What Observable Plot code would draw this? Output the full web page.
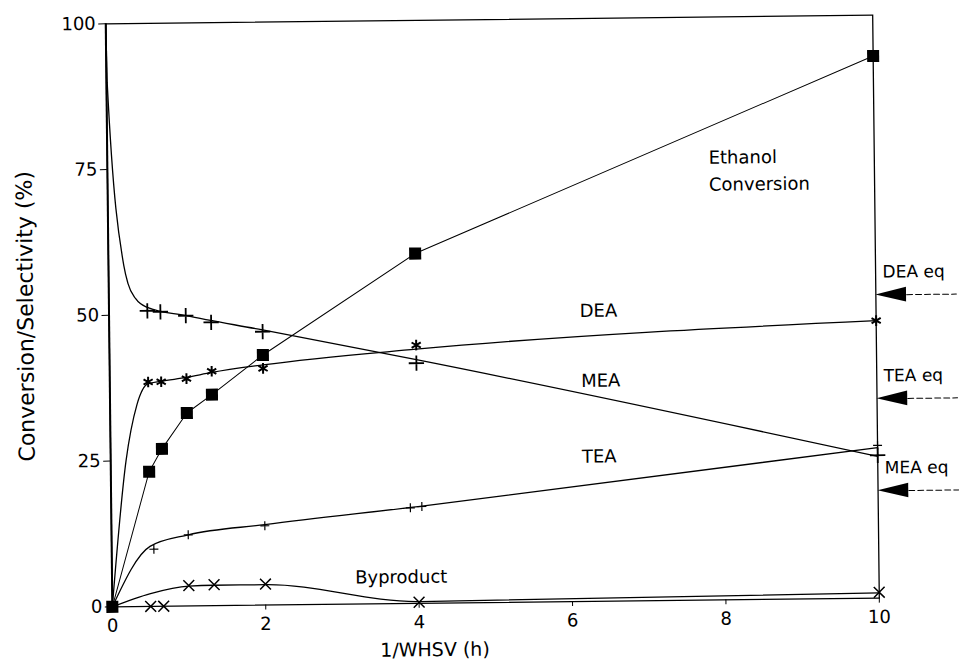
<!DOCTYPE html>
<html><head><meta charset="utf-8">
<script src="https://cdn.jsdelivr.net/npm/d3@7"></script>
<script src="https://cdn.jsdelivr.net/npm/@observablehq/plot@0.6"></script>
<style>
body{margin:0;background:#fff}
#chart svg{font-family:"DejaVu Sans",Arial,Helvetica,sans-serif;transform:rotate(-0.65deg);transform-origin:492px 310px}
</style>
</head><body><div id="chart"></div>
<script>
// axis ticks
const ticksX = [0, 2, 4, 6, 8, 10];
const ticksY = [0, 25, 50, 75, 100];

// measured points
const ethX = [0, 0.5, 0.67, 1, 1.33, 2, 4, 10];
const ethY = [0, 23.1, 27, 33.1, 36.2, 42.9, 60, 93];
const selX = [0.5, 0.67, 1, 1.33, 2, 4, 10];
const meaY = [50.7, 50.5, 49.8, 48.6, 46.9, 41.2, 24.5];
const deaY = [38.5, 38.5, 39.0, 40.2, 40.6, 44.3, 47.6];
const teaX = [0.55, 1, 2, 3.9, 4.05, 10];
const teaY = [9.8, 12.2, 13.6, 16.4, 16.6, 26.2];
const byX = [0.5, 0.67, 1, 1.33, 2, 4, 10];
const byY = [0, 0, 3.5, 3.6, 3.6, 0.2, 1];

// fitted curves
const meaFitX = [0, 0.01, 0.2, 0.25, 0.35, 0.5, 1, 2, 4, 10];
const meaFitY = [100, 90, 58.5, 55.5, 52.8, 51.3, 49.8, 47.2, 41.8, 24.3];
const deaFitX = [0, 0.2, 0.35, 0.5, 0.67, 1, 1.33, 2, 4, 10];
const deaFitY = [0, 25, 34.6, 38.2, 38.6, 39.2, 40, 41.2, 43.6, 47.6];
const teaFitX = [0, 0.5, 1, 2, 4, 10];
const teaFitY = [0, 10.3, 12.2, 13.8, 16.6, 25.8];
const byFitX = [0, 0.5, 1, 1.33, 2, 4, 10];
const byFitY = [0, 2.2, 3.4, 3.5, 3.5, 0.3, 0.9];

// equilibrium values
const eqNames = ["DEA eq", "TEA eq", "MEA eq"];
const eqY = [52, 34.2, 18.4];

// curve labels
const labNames = ["DEA", "MEA", "TEA", "Byproduct"];
const labX = [6.38, 6.4, 6.37, 3.77];
const labY = [49.8, 37.8, 24.8, 4.5];

const pts = (xs, ys) => xs.map((x, i) => ({x, y: ys[i]}));

const tri = eqNames.flatMap((n, i) => [
  {n, x: 10, y1: eqY[i], y2: eqY[i]},
  {n, x: 10.4, y1: eqY[i] - 1.25, y2: eqY[i] + 1.25}
]);
const dash = eqNames.flatMap((n, i) => [
  {n, x: 10.4, y: eqY[i]},
  {n, x: 11.05, y: eqY[i]}
]);
const eqText = eqNames.map((n, i) => ({n, x: 10.09, y: eqY[i] + 3.9}));
const labText = labNames.map((n, i) => ({n, x: labX[i], y: labY[i]}));

const lineStyle = {x: "x", y: "y", stroke: "black", strokeWidth: 1.3, curve: "monotone-x"};

const chart = Plot.plot({
  width: 959,
  height: 668,
  marginLeft: 108.5,
  marginRight: 83.5,
  marginTop: 19,
  marginBottom: 66,
  style: {fontSize: "18px", fontFamily: "DejaVu Sans, Arial, sans-serif", color: "black", background: "white"},
  x: {domain: [0, 10], ticks: ticksX, tickSize: 5, tickPadding: 7, label: null},
  y: {domain: [0, 100], ticks: ticksY, tickSize: 7, tickPadding: 3, label: null},
  marks: [
    Plot.frame({stroke: "black", strokeWidth: 1.3}),
    Plot.ruleX([0], {stroke: "black", strokeWidth: 2}),
    // fitted lines
    Plot.line(pts(ethX, ethY), {x: "x", y: "y", stroke: "black", strokeWidth: 1, curve: "linear"}),
    Plot.line(pts(meaFitX, meaFitY), lineStyle),
    Plot.line(pts(deaFitX, deaFitY), lineStyle),
    Plot.line(pts(teaFitX, teaFitY), lineStyle),
    Plot.line(pts(byFitX, byFitY), lineStyle),
    // markers
    Plot.dot(pts(ethX, ethY), {x: "x", y: "y", symbol: "square", r: 6.8, fill: "black"}),
    Plot.dot(pts(selX, meaY), {x: "x", y: "y", symbol: "plus", r: 5, stroke: "black", strokeWidth: 1.8}),
    Plot.dot(pts(selX, deaY), {x: "x", y: "y", symbol: "asterisk", r: 5, stroke: "black", strokeWidth: 2}),
    Plot.dot(pts(teaX, teaY), {x: "x", y: "y", symbol: "plus", r: 3, stroke: "black", strokeWidth: 1.2}),
    Plot.dot(pts(byX, byY), {x: "x", y: "y", symbol: "times", r: 5, stroke: "black", strokeWidth: 1.5}),
    // equilibrium arrows
    Plot.area(tri, {x1: "x", y1: "y1", y2: "y2", z: "n", fill: "black"}),
    Plot.line(dash, {x: "x", y: "y", z: "n", stroke: "black", strokeWidth: 1, strokeDasharray: "6,3"}),
    Plot.text(eqText, {x: "x", y: "y", text: "n", textAnchor: "start", fontSize: 17}),
    // curve labels
    Plot.text(labText, {x: "x", y: "y", text: "n", fontSize: 18}),
    Plot.text([{n: "Ethanol\nConversion", x: 7.84, y: 74}], {x: "x", y: "y", text: "n", textAnchor: "start", fontSize: 18, lineHeight: 1.5}),
    // axis titles
    Plot.text([{n: "1/WHSV (h)", x: 4.2}], {x: "x", frameAnchor: "bottom", dy: 53, text: "n", fontSize: 19}),
    Plot.text(["Conversion/Selectivity (%)"], {frameAnchor: "left", dx: -83, rotate: -90, textAnchor: "middle", text: d => d, fontSize: 22})
  ]
});
document.getElementById("chart").appendChild(chart);
</script>
</body></html>
